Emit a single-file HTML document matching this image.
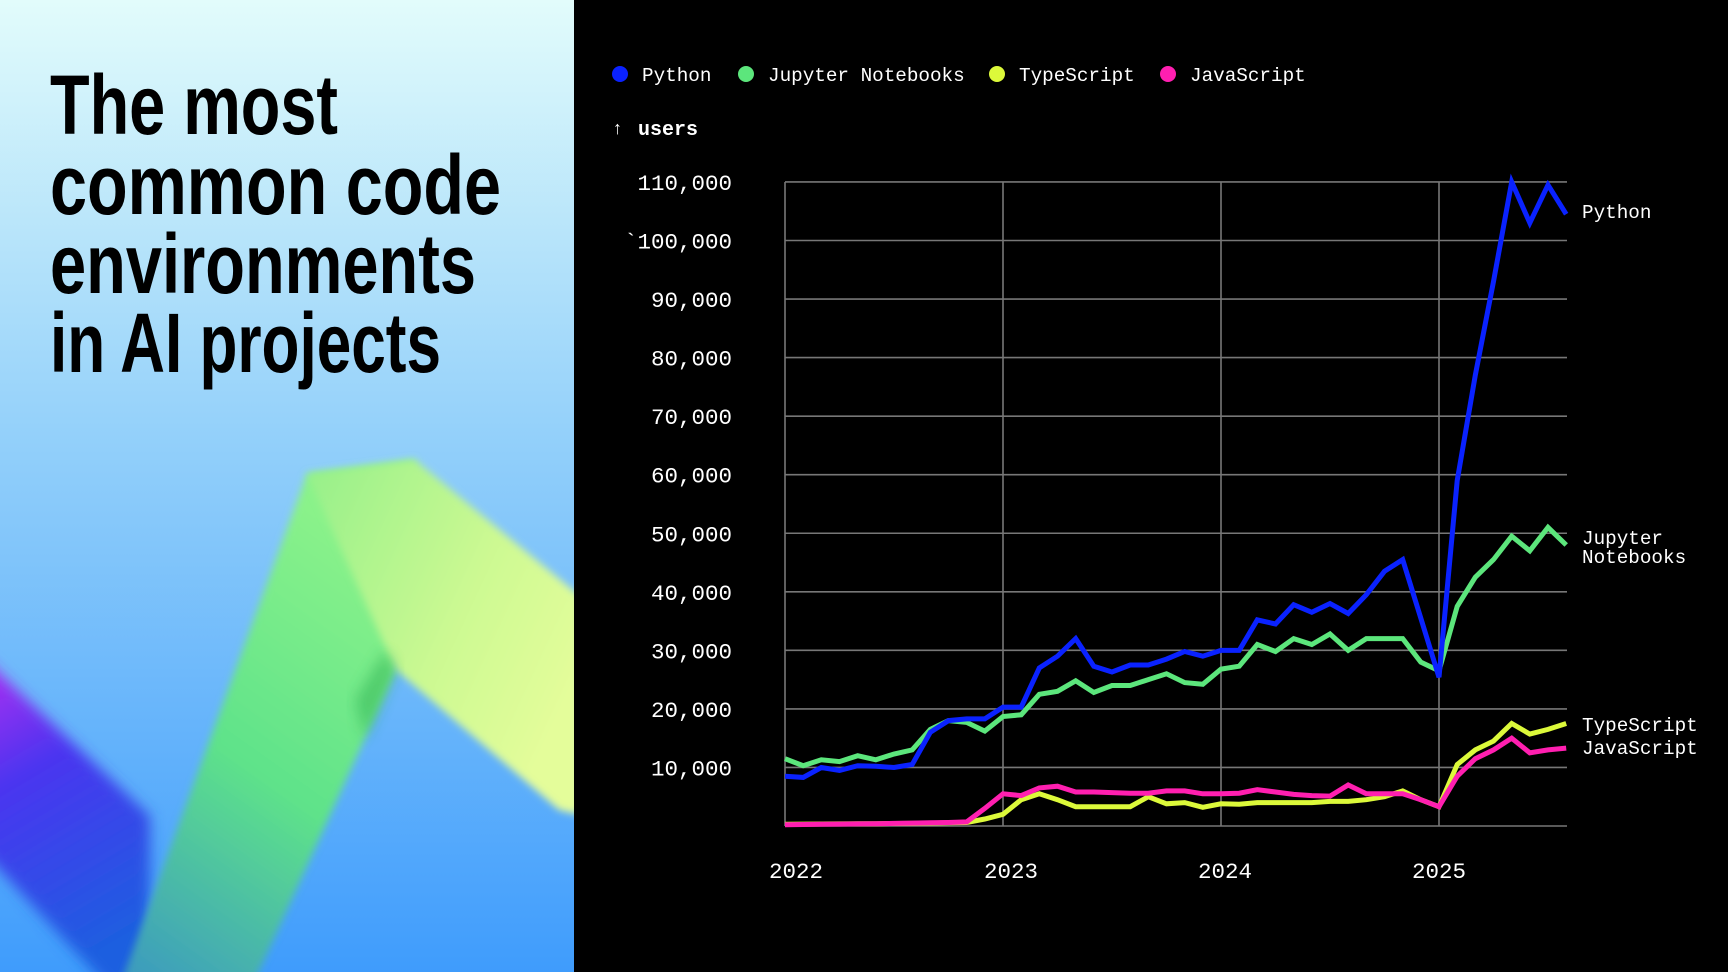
<!DOCTYPE html>
<html><head><meta charset="utf-8"><style>
html,body{margin:0;padding:0;background:#000;}
body{width:1728px;height:972px;overflow:hidden;position:relative;}
svg{position:absolute;left:0;top:0;}
</style></head><body>
<svg id="s" width="1728" height="972" viewBox="0 0 1728 972" xmlns="http://www.w3.org/2000/svg">
<defs>
<linearGradient id="bg" x1="0" y1="0" x2="0" y2="1">
<stop offset="0" stop-color="#e2fcfb"/><stop offset="0.45" stop-color="#93d0fa"/><stop offset="1" stop-color="#3f9cfc"/>
</linearGradient>
<linearGradient id="pb" x1="0" y1="0" x2="0.3" y2="1">
<stop offset="0" stop-color="#b82cf2"/><stop offset="0.4" stop-color="#4a35f0"/><stop offset="1" stop-color="#1e5ee0"/>
</linearGradient>
<linearGradient id="gb" x1="0" y1="1" x2="0.4" y2="0">
<stop offset="0" stop-color="#3a98c0"/><stop offset="0.5" stop-color="#5ee28a"/><stop offset="1" stop-color="#8af28a"/>
</linearGradient>
<linearGradient id="yb" x1="0" y1="0" x2="1" y2="0.6">
<stop offset="0" stop-color="#95f08a"/><stop offset="0.6" stop-color="#ccf992"/><stop offset="1" stop-color="#e4fd9a"/>
</linearGradient>
<filter id="bl" x="-20%" y="-20%" width="140%" height="140%"><feGaussianBlur stdDeviation="4"/></filter>
<filter id="bl2" x="-20%" y="-20%" width="140%" height="140%"><feGaussianBlur stdDeviation="7"/></filter>
<clipPath id="lc"><rect x="0" y="0" width="574" height="972"/></clipPath>
</defs>
<rect x="0" y="0" width="574" height="972" fill="url(#bg)"/>
<g clip-path="url(#lc)">
<polygon points="-20,655 0,674 150,816 150,990 110,990 0,870 -20,850" fill="url(#pb)" filter="url(#bl2)"/>
<polygon points="122,980 307,474 415,460 396,670 255,980" fill="url(#gb)" filter="url(#bl)"/>
<polygon points="307,474 415,460 580,596 580,815 559,810 396,670" fill="url(#yb)" filter="url(#bl)"/>
<polygon points="385,650 396,670 365,740 355,700" fill="#22a84a" opacity="0.45" filter="url(#bl2)"/>
</g>
<g font-family="Liberation Sans, sans-serif" font-weight="bold" font-size="84" fill="#000">
<text x="50" y="134" textLength="288" lengthAdjust="spacingAndGlyphs">The most</text>
<text x="50" y="214" textLength="451" lengthAdjust="spacingAndGlyphs">common code</text>
<text x="50" y="293" textLength="426" lengthAdjust="spacingAndGlyphs">environments</text>
<text x="50" y="372" textLength="391" lengthAdjust="spacingAndGlyphs">in AI projects</text>
</g>
<g font-family="Liberation Mono, monospace" font-size="19.3" fill="#fff">
<circle cx="620" cy="74" r="8" fill="#0a22ff"/><text x="642" y="81">Python</text>
<circle cx="746" cy="74" r="8" fill="#5ce67c"/><text x="768" y="81">Jupyter Notebooks</text>
<circle cx="997" cy="74" r="8" fill="#dcf93a"/><text x="1019" y="81">TypeScript</text>
<circle cx="1168" cy="74" r="8" fill="#ff1fb0"/><text x="1190" y="81">JavaScript</text>
<text x="612" y="134" font-size="18" font-weight="bold">↑</text>
<text x="638" y="135" font-weight="bold" font-size="20">users</text>
</g>
<g id="grid" stroke="#777" stroke-width="1.6"></g>
<g id="labels" font-family="Liberation Mono, monospace" font-size="22.5" fill="#fff"></g>
<g id="lines" fill="none" stroke-width="5" stroke-linejoin="miter" stroke-linecap="butt"></g>
<g font-family="Liberation Mono, monospace" font-size="19.3" fill="#fff">
<text x="1582" y="218">Python</text>
<text x="1582" y="544">Jupyter</text>
<text x="1582" y="563">Notebooks</text>
<text x="1582" y="731">TypeScript</text>
<text x="1582" y="754">JavaScript</text>
</g>
</svg>
<script>
var NS="http://www.w3.org/2000/svg";
function el(t,a,p,txt){var e=document.createElementNS(NS,t);for(var k in a)e.setAttribute(k,a[k]);if(txt)e.textContent=txt;document.getElementById(p).appendChild(e);}
var X0=785,X1=1567,Y0=826,K=5.855;
for(var i=0;i<=11;i++){var y=Y0-i*10*K;el('line',{x1:X0,x2:X1,y1:y,y2:y},'grid');}
[785,1003,1221,1439].forEach(function(x){el('line',{x1:x,x2:x,y1:Y0-110*K,y2:Y0},'grid');});
for(var i=1;i<=11;i++){var y=Y0-i*10*K;var s=(i*10)+",000";if(i==10)s="`100,000";el('text',{x:732,y:y+8,'text-anchor':'end'},'labels',s);}
[["2022",796],["2023",1011],["2024",1225],["2025",1439]].forEach(function(a){el('text',{x:a[1],y:878,'text-anchor':'middle'},'labels',a[0]);});
var py=[8.5,8.3,10,9.5,10.3,10.2,10.0,10.5,16,18,18.3,18.3,20.3,20.3,27,29,32,27.3,26.3,27.5,27.5,28.5,29.8,29,30,30,35.2,34.5,37.8,36.5,38,36.3,39.5,43.5,45.5,35.5,25.4,59,77,93,110,103,109.5,104.5];
var ju=[11.5,10.3,11.3,11,12,11.3,12.3,13,16.5,18,17.7,16.2,18.7,19,22.5,23,24.8,22.8,24,24,25,26,24.5,24.2,26.8,27.3,31,29.8,32,31,32.8,30,32,32,32,28,26.5,37.5,42.5,45.5,49.5,47,51,48];
var ts=[0.3,0.32,0.34,0.36,0.38,0.4,0.42,0.45,0.5,0.55,0.6,1.2,2,4.5,5.5,4.5,3.3,3.3,3.3,3.3,5,3.8,4,3.2,3.8,3.7,4,4,4,4,4.2,4.2,4.5,5,6,4.5,3.3,10.5,13,14.5,17.5,15.7,16.5,17.5];
var js=[0.2,0.25,0.3,0.33,0.36,0.4,0.45,0.5,0.55,0.6,0.7,3,5.5,5.2,6.5,6.8,5.8,5.8,5.7,5.6,5.6,6,6,5.5,5.5,5.6,6.2,5.8,5.4,5.2,5.1,7,5.5,5.5,5.5,4.5,3.3,8.5,11.5,13,15,12.5,13,13.3];
var dx=(1439-785)/36;
function pl(d,c){var p=d.map(function(v,i){return (X0+i*dx).toFixed(1)+","+(Y0-v*K).toFixed(1);}).join(" ");el('polyline',{points:p,stroke:c},'lines');}
pl(ts,"#dcf93a");pl(js,"#ff1fb0");pl(ju,"#5ce67c");pl(py,"#0a22ff");
</script>
</body></html>
